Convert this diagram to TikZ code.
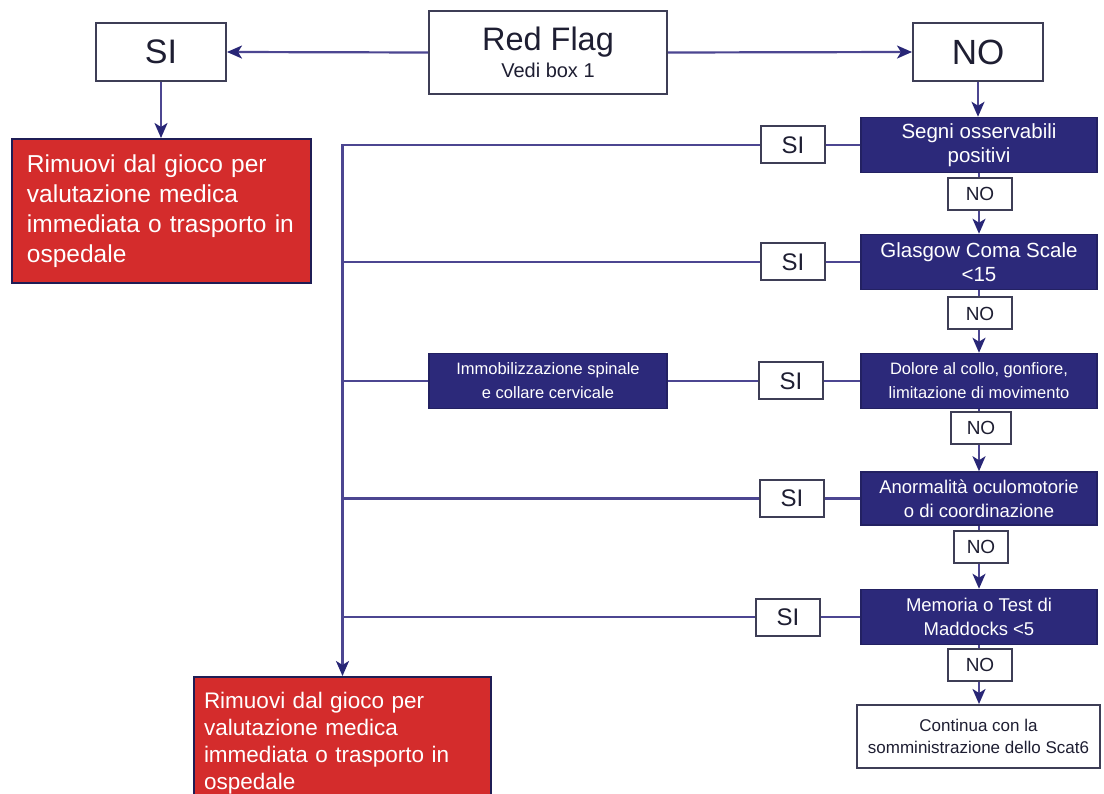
\documentclass[tikz,border=0pt]{standalone}
\usepackage{fontspec}
\setmainfont{Liberation Sans}
\usetikzlibrary{arrows.meta}
\definecolor{navyfill}{RGB}{44,41,122}
\definecolor{linec}{RGB}{76,70,145}
\definecolor{tipc}{RGB}{40,38,118}
\definecolor{redfill}{RGB}{212,44,44}
\definecolor{boxline}{RGB}{62,62,86}
\definecolor{txt}{RGB}{30,30,50}
\newcommand{\fsz}[2]{\fontsize{#1}{#2}\selectfont}
\begin{document}
\begin{tikzpicture}[x=1pt,y=-1pt,
 wbox/.style={draw=boxline,line width=2pt,fill=white,text=txt,inner sep=0pt,align=center},
 bbox/.style={draw=navyfill!80!black,line width=1.5pt,fill=navyfill,text=white,inner sep=0pt,align=center,minimum width=236pt,minimum height=55pt},
 rbox/.style={draw=navyfill!70!black,line width=2pt,fill=redfill,text=white,align=left,inner ysep=0pt},
 nobox/.style={wbox,minimum width=64pt,minimum height=32pt,font=\fsz{19}{20}},
 sibox/.style={wbox,minimum width=64pt,minimum height=37pt,font=\fsz{24}{26}},
 conn/.style={draw=linec,line width=2.2pt},
 arr/.style={conn,-{Stealth[length=15pt,width=13pt,inset=4pt,color=tipc]}}
]
\useasboundingbox (0,0) rectangle (1104,794);
\fill[white] (0,0) rectangle (1104,794);
\clip (0,0) rectangle (1104,794);

% top row
\node[wbox,minimum width=130pt,minimum height=58pt,font=\fsz{34}{36}] (si0) at (161,52) {SI};
\node[wbox,minimum width=238pt,minimum height=83pt,font=\fsz{20}{27}] (rf) at (548,52.5) {{\fsz{32.5}{27}Red Flag}\\Vedi box 1};
\node[wbox,minimum width=130pt,minimum height=58pt,font=\fsz{35}{36}] (no0) at (978,52) {NO};

% red boxes
\node[rbox,minimum width=299pt,minimum height=144pt,text width=269pt,inner xsep=15pt,font=\fsz{24.5}{30}] (red1) at (161.5,211)
 {Rimuovi dal gioco per\\valutazione medica\\immediata o trasporto in\\ospedale};
\node[rbox,anchor=north west,minimum width=297pt,minimum height=132pt,text width=277pt,inner xsep=10pt,font=\fsz{22.5}{27}] (red2) at (193,676)
 {Rimuovi dal gioco per\\valutazione medica\\immediata o trasporto in\\ospedale};

% right column
\node[bbox,font=\fsz{20.5}{24}] (segni) at (979,145) {Segni osservabili\\positivi};
\node[nobox] (no1) at (980,194) {NO};
\node[bbox,font=\fsz{20.5}{24}] (glas) at (979,262) {Glasgow Coma Scale\\<15};
\node[nobox] (no2) at (980,313.5) {NO};
\node[bbox,font=\fsz{16.5}{24}] (dol) at (979,381) {Dolore al collo, gonfiore,\\limitazione di movimento};
\node[nobox,minimum width=60pt] (no3) at (981,428) {NO};
\node[bbox,minimum height=53pt,font=\fsz{18.5}{24}] (anor) at (979,498.5) {Anormalità oculomotorie\\o di coordinazione};
\node[nobox,minimum width=54pt] (no4) at (981,547) {NO};
\node[bbox,font=\fsz{18.5}{24}] (mem) at (979,617) {Memoria o Test di\\Maddocks <5};
\node[nobox] (no5) at (980,665) {NO};
\node[wbox,minimum width=243pt,minimum height=63pt,font=\fsz{17}{22}] (cont) at (978.5,736.5) {Continua con la\\somministrazione dello Scat6};

% SI boxes in the middle
\node[sibox] (si1) at (793,145) {SI};
\node[sibox] (si2) at (793,262) {SI};
\node[sibox] (si3) at (791,381) {SI};
\node[sibox] (si4) at (792,498.5) {SI};
\node[bbox,minimum width=238pt,font=\fsz{16.5}{24}] (immob) at (548,381) {Immobilizzazione spinale\\e collare cervicale};
\node[sibox] (si5) at (788,617) {SI};

% connectors, top
\draw[arr] (rf.west) -- (si0.east);
\draw[arr] (rf.east) -- (no0.west);
\draw[arr] (si0.south) -- (si0.south |- red1.north);
\draw[arr] (no0.south) -- (no0.south |- segni.north);

% vertical chain
\draw[conn] (segni.south) -- (segni.south |- no1.north);
\draw[arr] (segni.south |- no1.south) -- (glas.north);
\draw[conn] (glas.south) -- (glas.south |- no2.north);
\draw[arr] (glas.south |- no2.south) -- (dol.north);
\draw[conn] (dol.south) -- (dol.south |- no3.north);
\draw[arr] (dol.south |- no3.south) -- (anor.north);
\draw[conn] (anor.south) -- (anor.south |- no4.north);
\draw[arr] (anor.south |- no4.south) -- (mem.north);
\draw[conn] (mem.south) -- (mem.south |- no5.north);
\draw[arr] (mem.south |- no5.south) -- (mem.south |- cont.north);

% rows to the left
\draw[conn] (segni.west) -- (si1.east);
\draw[arr] (si1.west) -| (red2.north);
\draw[conn] (glas.west) -- (si2.east);
\draw[conn] (si2.west) -- (si2.west -| red2.north);
\draw[conn] (dol.west) -- (si3.east);
\draw[conn] (si3.west) -- (immob.east);
\draw[conn] (immob.west) -- (immob.west -| red2.north);
\draw[conn] (anor.west) -- (si4.east);
\draw[conn] (si4.west) -- (si4.west -| red2.north);
\draw[conn] (mem.west) -- (si5.east);
\draw[conn] (si5.west) -- (si5.west -| red2.north);
\end{tikzpicture}
\end{document}
